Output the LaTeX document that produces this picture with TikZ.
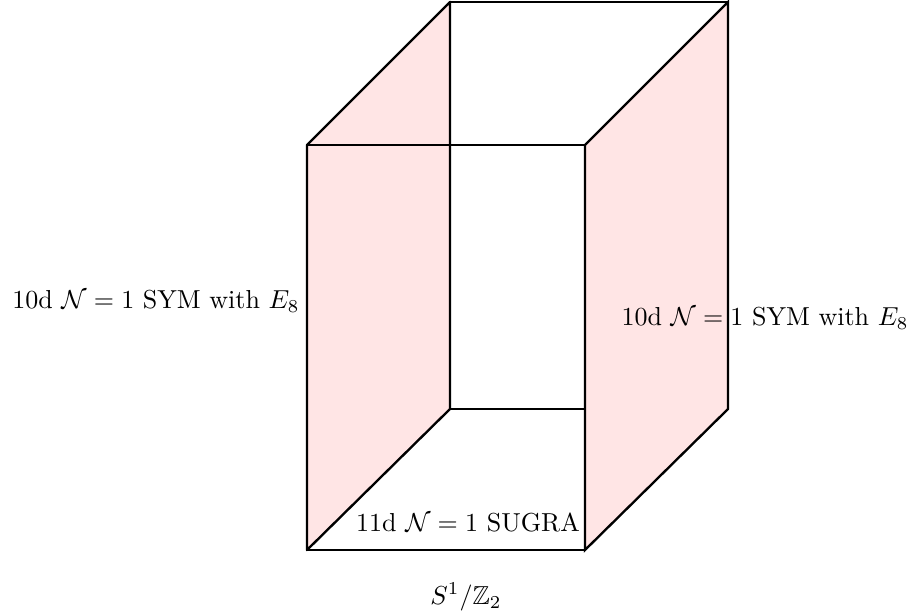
\documentclass[tikz,border=0pt]{standalone}
\usepackage{amssymb}
\begin{document}
\begin{tikzpicture}[x=0.01352cm,y=-0.01352cm,
  face/.style={fill=red!10,draw=black,line width=0.9pt,line join=round},
  edge/.style={draw=black,line width=0.9pt,line cap=round},
  lbl/.style={inner sep=0pt,font=\normalsize}]
\useasboundingbox (0,0) rectangle (910,615);
% corners
\coordinate (ftl) at (307,145);
\coordinate (ftr) at (585,145);
\coordinate (fbl) at (307,550);
\coordinate (fbr) at (585,550);
\coordinate (btl) at (450,2);
\coordinate (btr) at (728,2);
\coordinate (bbl) at (450,409);
\coordinate (bbr) at (728,409);
\coordinate (bbm) at (585,409);
% back edges
\draw[edge] (btl) -- (btr);
\draw[edge] (bbl) -- (bbm);
% faces
\path[face] (ftl) -- (btl) -- (bbl) -- (fbl) -- cycle;
\path[fill=red!10] (ftr) -- (btr) -- (bbr) -- (fbr) -- cycle;
\node[lbl,anchor=west] (rl) at (621,318) {10d $\mathcal{N}=1$ SYM with $E_8$};
\draw[edge] (ftr) -- (btr) -- (bbr) -- (fbr) -- cycle;
% front
\draw[edge] (ftl) -- (ftr) -- (fbr) -- (fbl) -- cycle;
\draw[edge] (btl) -- (bbl);
% labels
\node[lbl,anchor=east] (ll) at (300,301) {10d $\mathcal{N}=1$ SYM with $E_8$};
\node[lbl] (sg) at (468,522) {11d $\mathcal{N}=1$ SUGRA};
\node[lbl] (s1) at (466,597) {$S^1/\mathbb{Z}_2$};
\end{tikzpicture}
\end{document}
